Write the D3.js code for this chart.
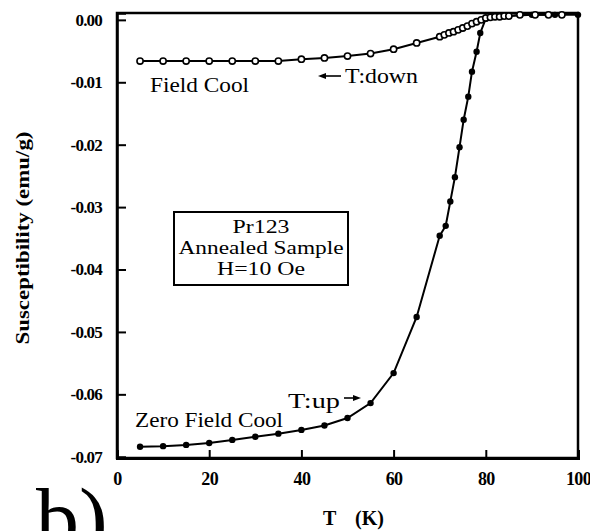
<!DOCTYPE html>
<html>
<head>
<meta charset="utf-8">
<script src="https://cdn.jsdelivr.net/npm/d3@7/dist/d3.min.js"></script>
<style>
  html, body { margin: 0; padding: 0; background: #fff; }
  svg { display: block; }
  text { font-family: "Liberation Serif", "Times New Roman", serif; fill: #000; }
</style>
</head>
<body>
<svg id="chart" width="590" height="531"></svg>
<script>
// ---- data ----
const fcT   = [5,10,15,20,25,30,35,40,45,50,55,60,65,70,71,72,73,74,75,76,77,78,79,80,81,82,83,84,85,87.4,90.7,93.6,96.5];
const fcChi = [-0.0066,-0.0066,-0.0066,-0.0066,-0.0066,-0.0066,-0.0066,-0.0063,-0.0061,-0.0058,-0.0054,-0.0047,-0.0037,
               -0.0027,-0.0024,-0.0021,-0.0019,-0.0016,-0.0013,-0.0010,-0.0006,-0.0003,0.0000,0.0003,0.0004,0.0005,0.0005,0.0006,0.0006,
               0.0008,0.0008,0.0008,0.0008];

const zfcT   = [5,10,15,20,25,30,35,40,45,50,55,60,65,70,71.3,72.3,73.3,74.3,75.2,76.2,77,78,78.8,80,85,90,95,100];
const zfcChi = [-0.0684,-0.0683,-0.0681,-0.0678,-0.0673,-0.0668,-0.0663,-0.0657,-0.0650,-0.0638,-0.0614,-0.0566,-0.0476,
                -0.0346,-0.0330,-0.0291,-0.0252,-0.0204,-0.0160,-0.0123,-0.0083,-0.0051,-0.0021,0.0002,0.0006,0.0008,0.0008,0.0008];

const xTickValues = [0,20,40,60,80,100];
const xTickLabels = ["0","20","40","60","80","100"];
const yTickValues = [0,-0.01,-0.02,-0.03,-0.04,-0.05,-0.06,-0.07];
const yTickLabels = ["0.00","-0.01","-0.02","-0.03","-0.04","-0.05","-0.06","-0.07"];

const boxLines = ["Pr123","Annealed Sample","H=10 Oe"];

// ---- layout ----
const svg = d3.select("#chart");
const L = 117, R = 578, T = 13, B = 458;
const x = d3.scaleLinear().domain([0,100]).range([L,R]);
const y = d3.scaleLinear().domain([-0.0702,0.0011]).range([B,T]);

// frame
svg.append("rect").attr("x",L).attr("y",T).attr("width",R-L).attr("height",B-T)
  .attr("fill","none").attr("stroke","#000").attr("stroke-width",2.5);

// y axis
const yAxis = d3.axisLeft(y).tickValues(yTickValues)
  .tickFormat((d,i)=>yTickLabels[i]).tickSize(-9).tickPadding(15);
const gy = svg.append("g").attr("transform",`translate(${L},0)`).call(yAxis);
gy.select(".domain").attr("stroke-width",2.5);
gy.selectAll(".tick line").attr("stroke-width",2);
gy.selectAll(".tick text").style("font-family","'Liberation Serif', serif")
  .style("font-weight","bold").style("font-size","17px").attr("letter-spacing","-0.8");

// x axis
const xAxis = d3.axisBottom(x).tickValues(xTickValues)
  .tickFormat((d,i)=>xTickLabels[i]).tickSize(-8).tickPadding(14);
const gx = svg.append("g").attr("transform",`translate(0,${B})`).call(xAxis);
gx.select(".domain").attr("stroke-width",3);
gx.selectAll(".tick line").attr("stroke-width",2);
gx.selectAll(".tick text").style("font-family","'Liberation Serif', serif")
  .style("font-weight","bold").style("font-size","18px").attr("letter-spacing","-0.6");

// axis titles
svg.append("text").attr("transform","translate(29,238) rotate(-90)")
  .attr("text-anchor","middle").style("font-weight","bold").style("font-size","19px")
  .attr("textLength",213).attr("lengthAdjust","spacingAndGlyphs")
  .text("Susceptibility (emu/g)");
svg.append("text").attr("x",323).attr("y",525).style("font-weight","bold").style("font-size","20px").text("T");
svg.append("text").attr("x",355).attr("y",525).style("font-weight","bold").style("font-size","20px").text("(K)");

// series lines
const line = d3.line().x(d=>x(d[0])).y(d=>y(d[1]));
const zfc = zfcT.map((t,i)=>[t,zfcChi[i]]);
const fc  = fcT.map((t,i)=>[t,fcChi[i]]);

svg.append("path").datum(zfc).attr("d",line).attr("fill","none").attr("stroke","#000").attr("stroke-width",2);
svg.selectAll("circle.zfc").data(zfc).enter().append("circle").attr("class","zfc")
  .attr("cx",d=>x(d[0])).attr("cy",d=>y(d[1])).attr("r",3.2).attr("fill","#000");

svg.append("path").datum(fc).attr("d",line).attr("fill","none").attr("stroke","#000").attr("stroke-width",2);
svg.selectAll("circle.fc").data(fc).enter().append("circle").attr("class","fc")
  .attr("cx",d=>x(d[0])).attr("cy",d=>y(d[1])).attr("r",3.1).attr("fill","#fff")
  .attr("stroke","#000").attr("stroke-width",1.6);

// annotations
function label(tx, ty, s, len, size) {
  const t = svg.append("text").attr("x",tx).attr("y",ty).style("font-size",(size||21)+"px").text(s);
  if (len) t.attr("textLength",len).attr("lengthAdjust","spacingAndGlyphs");
  return t;
}
label(150, 92, "Field Cool", 99);
label(345, 83, "T:down", 73);
label(135, 427, "Zero Field Cool", 148);
label(288, 408, "T:up", 52);

function arrow(x1, x2, yy) {
  const dir = Math.sign(x2 - x1);
  svg.append("line").attr("x1",x1).attr("y1",yy).attr("x2",x2 - dir*4).attr("y2",yy)
    .attr("stroke","#000").attr("stroke-width",1.6);
  svg.append("path").attr("d",`M${x2},${yy} L${x2-dir*8},${yy-3} L${x2-dir*8},${yy+3} Z`).attr("fill","#000");
}
arrow(341, 318, 76);
arrow(344, 361, 398);

// info box
svg.append("rect").attr("x",174).attr("y",212).attr("width",174).attr("height",73)
  .attr("fill","none").attr("stroke","#000").attr("stroke-width",2);
const boxY = [233,254,275];
const boxLen = [57,165,88];
boxLines.forEach((s,i)=>{
  svg.append("text").attr("x",261).attr("y",boxY[i]).attr("text-anchor","middle")
    .style("font-size","19px").attr("textLength",boxLen[i]).attr("lengthAdjust","spacingAndGlyphs").text(s);
});

// panel letter (cut off by the bottom edge, as in the reference)
svg.append("text").attr("x",36).attr("y",548).style("font-size","86px").text("b)");
</script>
</body>
</html>
